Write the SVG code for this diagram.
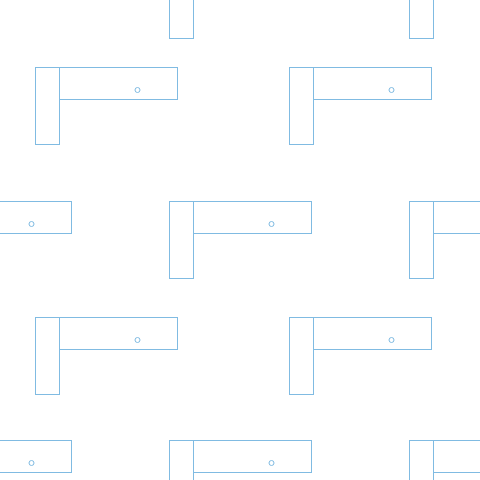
<svg xmlns="http://www.w3.org/2000/svg" xmlns:xlink="http://www.w3.org/1999/xlink" width="480" height="480" viewBox="0 0 480 480">
<style>
.s{fill:none;stroke:#80bbe2;stroke-width:1}
</style>
<defs>
<g id="L">
<rect class="s" x="0.5" y="0.5" width="24" height="77"/>
<rect class="s" x="24.5" y="0.5" width="118" height="32"/>
<circle class="s" cx="102.5" cy="23" r="2.5"/>
</g>
</defs>
<rect width="480" height="480" fill="#ffffff"/>
<use xlink:href="#L" href="#L" x="169" y="-39"/>
<use xlink:href="#L" href="#L" x="409" y="-39"/>
<use xlink:href="#L" href="#L" x="35" y="67"/>
<use xlink:href="#L" href="#L" x="289" y="67"/>
<use xlink:href="#L" href="#L" x="-71" y="201"/>
<use xlink:href="#L" href="#L" x="169" y="201"/>
<use xlink:href="#L" href="#L" x="409" y="201"/>
<use xlink:href="#L" href="#L" x="35" y="317"/>
<use xlink:href="#L" href="#L" x="289" y="317"/>
<use xlink:href="#L" href="#L" x="-71" y="440"/>
<use xlink:href="#L" href="#L" x="169" y="440"/>
<use xlink:href="#L" href="#L" x="409" y="440"/>
</svg>
